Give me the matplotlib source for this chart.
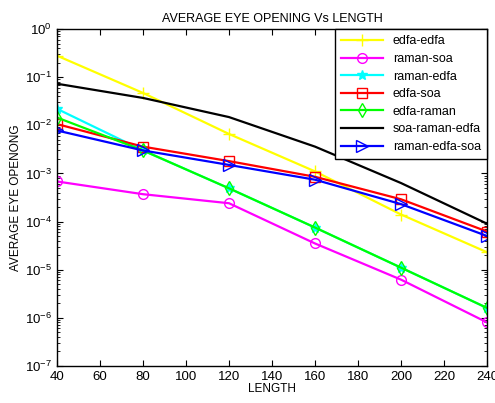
import matplotlib
matplotlib.use('Agg')
import matplotlib.pyplot as plt
import numpy as np

plt.rcParams['font.family'] = ['Liberation Sans', 'DejaVu Sans']
plt.rcParams['mathtext.fontset'] = 'custom'
plt.rcParams['mathtext.rm'] = 'Liberation Sans'
plt.rcParams['mathtext.it'] = 'Liberation Sans'

length = [40, 80, 120, 160, 200, 240]

edfa_edfa = [0.28, 0.047, 0.0066, 0.0011, 1.4e-4, 2.3e-5]
raman_soa = [6.8e-4, 3.7e-4, 2.4e-4, 3.5e-5, 6.2e-6, 8.0e-7]
raman_edfa = [0.022, 0.003, 4.9e-4, 7.5e-5, 1.1e-5, 1.6e-6]
edfa_soa = [0.0106, 0.0036, 0.0018, 8.5e-4, 2.9e-4, 6.2e-5]
edfa_raman = [0.0145, 0.003, 4.9e-4, 7.5e-5, 1.1e-5, 1.6e-6]
soa_raman_edfa = [0.073, 0.037, 0.0148, 0.0036, 6.3e-4, 9.0e-5]
raman_edfa_soa = [0.0078, 0.003, 0.0015, 7.4e-4, 2.3e-4, 5.0e-5]

fig = plt.figure(figsize=(4.95, 4.03), dpi=100)
ax = fig.add_axes([0.115, 0.092, 0.869, 0.836])

lw = 1.6
ax.semilogy(length, edfa_edfa, color='yellow', marker='+', ms=8, lw=lw, label='edfa-edfa')
ax.semilogy(length, raman_soa, color='magenta', marker='o', ms=7, mfc='none', lw=lw, label='raman-soa')
ax.semilogy(length, raman_edfa, color='cyan', marker='*', ms=7, lw=lw, label='raman-edfa')
ax.semilogy(length, edfa_soa, color='red', marker='s', ms=7, mfc='none', lw=lw, label='edfa-soa')
ax.semilogy(length, edfa_raman, color='lime', marker='d', ms=7, mfc='none', lw=lw, label='edfa-raman')
ax.semilogy(length, soa_raman_edfa, color='black', lw=lw, label='soa-raman-edfa')
ax.semilogy(length, raman_edfa_soa, color='blue', marker='>', ms=8, mfc='none', lw=lw, label='raman-edfa-soa')

ax.set_xlim(40, 240)
ax.set_ylim(1e-7, 1)
ax.set_xticks(np.arange(40, 241, 20))
ax.tick_params(which='both', direction='in', top=True, right=True, labelsize=9.5)
ax.tick_params(which='major', length=4)
ax.tick_params(which='minor', length=2)
for s in ax.spines.values():
    s.set_linewidth(1.0)

ax.set_title('AVERAGE EYE OPENING Vs LENGTH', fontsize=9, pad=5)
ax.set_xlabel('LENGTH', fontsize=8.5, labelpad=0)
ax.set_ylabel('AVERAGE EYE OPENONG', fontsize=8.5, labelpad=2)

leg = ax.legend(loc='upper right', fontsize=9, borderaxespad=0, fancybox=False,
                framealpha=1, edgecolor='black', handlelength=3.3, labelspacing=0.45,
                borderpad=0.5)
leg.get_frame().set_linewidth(1.0)

fig.savefig('out.png', dpi=100)
